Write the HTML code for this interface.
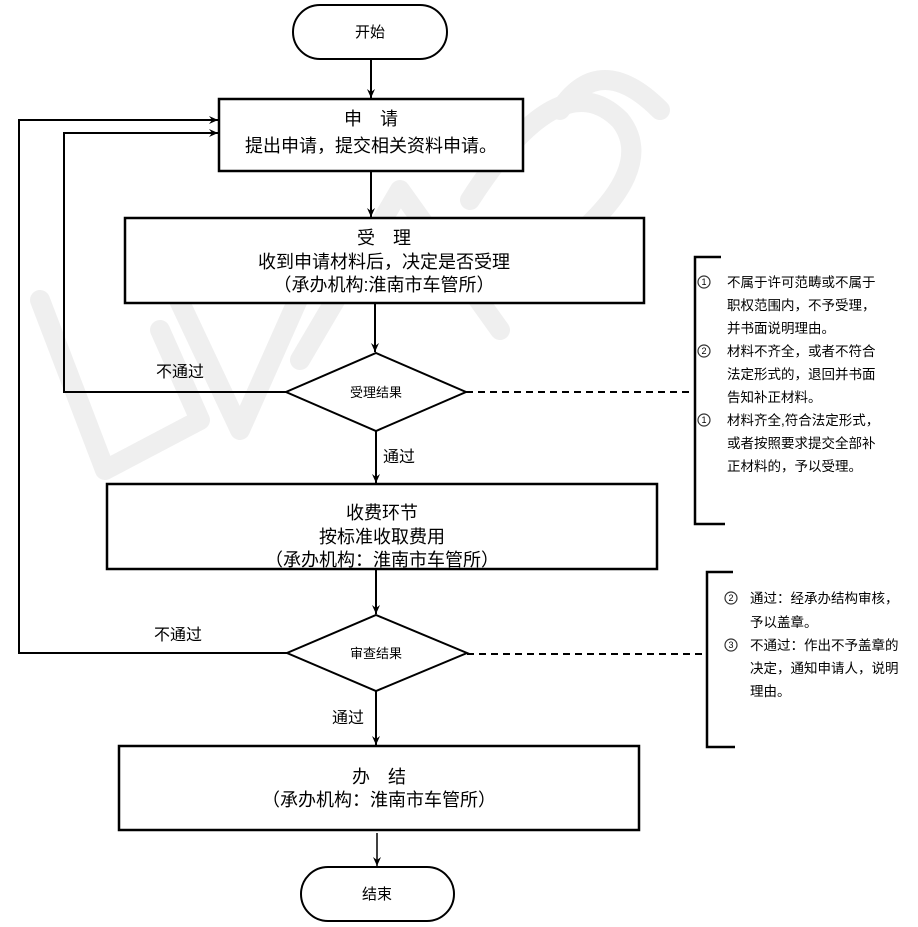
<!DOCTYPE html>
<html><head><meta charset="utf-8"><style>
html,body{margin:0;padding:0;background:#fff;width:918px;height:927px;overflow:hidden}
svg{display:block}
text{font-family:"Liberation Sans","Noto Sans CJK SC",sans-serif;fill:#000}
</style></head><body>
<svg width="918" height="927" viewBox="0 0 918 927" xmlns="http://www.w3.org/2000/svg">
<defs>
<marker id="a" markerWidth="10" markerHeight="10" refX="9" refY="5" orient="auto" markerUnits="userSpaceOnUse">
<path d="M0,1 L9,5 L0,9 L3,5 Z" fill="#000"/></marker>
</defs>
<g stroke="#efefef" stroke-width="20" fill="none" stroke-linecap="round" stroke-linejoin="round">
<polyline points="40,300 105,470 200,420 160,330"/>
<polyline points="160,260 240,430 320,250"/>
<polyline points="300,360 400,190 500,330"/>
<path d="M470,200 Q560,60 620,120 Q660,170 560,250"/>
<path d="M660,110 Q600,50 560,110"/>
</g>
<g stroke="#000" stroke-width="2" fill="none">
<rect x="293" y="5" width="154" height="54" rx="27" fill="#fff"/>
<line x1="371" y1="59" x2="371" y2="98" marker-end="url(#a)"/>
<rect x="219" y="99" width="304" height="72" fill="#fff" stroke-width="2.5"/>
<line x1="371" y1="171" x2="371" y2="217" marker-end="url(#a)"/>
<rect x="125" y="218" width="519" height="85" fill="#fff" stroke-width="2.5"/>
<line x1="375" y1="303" x2="375" y2="352" marker-end="url(#a)"/>
<polygon points="376,353 466,392 376,431 286,392" fill="#fff"/>
<line x1="376" y1="431" x2="376" y2="483" marker-end="url(#a)"/>
<rect x="107" y="484" width="550" height="85" fill="#fff" stroke-width="2.5"/>
<line x1="376" y1="569" x2="376" y2="614" marker-end="url(#a)"/>
<polygon points="376,615 467,653 376,691 287,653" fill="#fff"/>
<line x1="376" y1="691" x2="376" y2="745" marker-end="url(#a)"/>
<rect x="119" y="746" width="520" height="84" fill="#fff" stroke-width="2.5"/>
<line x1="377" y1="833" x2="377" y2="866" marker-end="url(#a)" stroke-width="1.5"/>
<rect x="301" y="867" width="153" height="54" rx="27" fill="#fff"/>
<polyline points="286,392 64,392 64,133 218,133" marker-end="url(#a)"/>
<polyline points="287,653 19,653 19,120 218,120" marker-end="url(#a)"/>
<line x1="466" y1="392" x2="693" y2="392" stroke-dasharray="7,5"/>
<line x1="467" y1="654" x2="706" y2="654" stroke-dasharray="7,5"/>
<polyline points="721,257 695,257 695,524 725,524" stroke-width="2.5"/>
<polyline points="733,572 707,572 707,747 735,747" stroke-width="2.5"/>
</g>
<g stroke="#333" stroke-width="1.2" fill="none">
<circle cx="704" cy="282" r="6"/>
<circle cx="704" cy="351" r="6"/>
<circle cx="704" cy="420" r="6"/>
<circle cx="731" cy="598" r="6"/>
<circle cx="731" cy="645" r="6"/>
</g>
<g font-size="9" text-anchor="middle">
<text x="704" y="285">1</text>
<text x="704" y="354">2</text>
<text x="704" y="423">1</text>
<text x="731" y="601">2</text>
<text x="731" y="648">3</text>
</g>
<g font-size="15" text-anchor="middle">
<text x="370" y="37">开始</text>
<text x="377" y="899">结束</text>
<text x="376" y="397" font-size="13">受理结果</text>
<text x="376" y="658" font-size="13">审查结果</text>
</g>
<g font-size="18" text-anchor="middle">
<text x="371" y="125">申　请</text>
<text x="371" y="152">提出申请，提交相关资料申请。</text>
<text x="384" y="244">受　理</text>
<text x="384" y="268">收到申请材料后，决定是否受理</text>
<text x="384" y="291">（承办机构:淮南市车管所）</text>
<text x="382" y="519">收费环节</text>
<text x="382" y="543">按标准收取费用</text>
<text x="382" y="566">（承办机构：淮南市车管所）</text>
<text x="379" y="783">办　结</text>
<text x="379" y="806">（承办机构：淮南市车管所）</text>
</g>
<g font-size="16">
<text x="156" y="377">不通过</text>
<text x="383" y="462">通过</text>
<text x="154" y="640">不通过</text>
<text x="332" y="723">通过</text>
</g>
<g font-size="13.5">
<text x="727" y="287">不属于许可范畴或不属于</text>
<text x="727" y="310">职权范围内，不予受理，</text>
<text x="727" y="333">并书面说明理由。</text>
<text x="727" y="356">材料不齐全，或者不符合</text>
<text x="727" y="379">法定形式的，退回并书面</text>
<text x="727" y="402">告知补正材料。</text>
<text x="727" y="425">材料齐全,符合法定形式，</text>
<text x="727" y="448">或者按照要求提交全部补</text>
<text x="727" y="471">正材料的，予以受理。</text>
<text x="750" y="603">通过：经承办结构审核，</text>
<text x="750" y="627">予以盖章。</text>
<text x="750" y="650">不通过：作出不予盖章的</text>
<text x="750" y="673">决定，通知申请人，说明</text>
<text x="750" y="696">理由。</text>
</g>
</svg>
</body></html>
